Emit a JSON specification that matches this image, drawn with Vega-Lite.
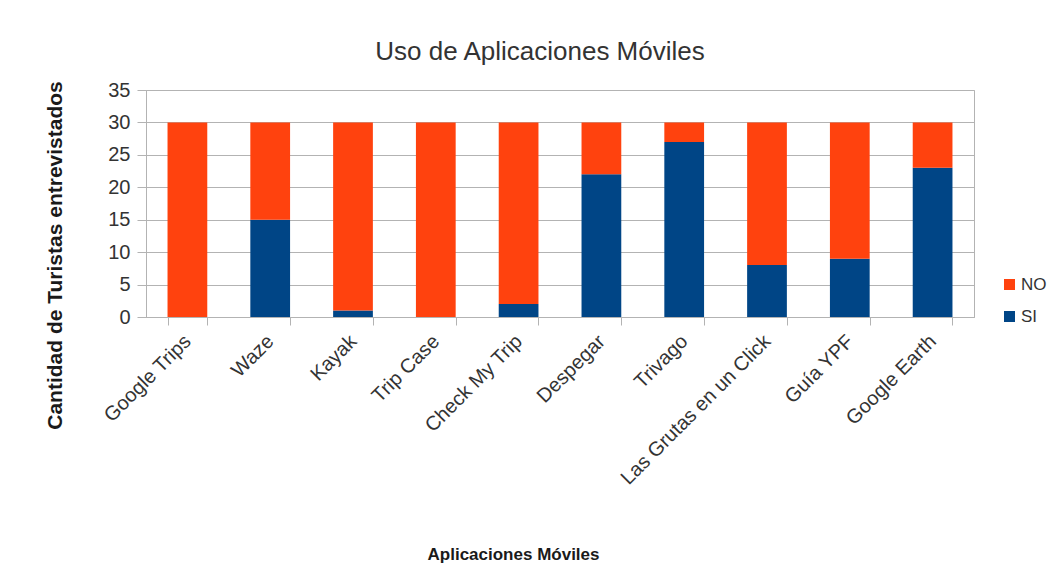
{
  "$schema": "https://vega.github.io/schema/vega-lite/v6.json",
  "autosize": "none",
  "width": 828,
  "height": 227,
  "padding": {"left": 146, "top": 90, "right": 86, "bottom": 267},
  "background": "white",
  "title": {
    "text": "Uso de Aplicaciones Móviles",
    "font": "Liberation Sans",
    "fontSize": 26,
    "fontWeight": "normal",
    "color": "#333333",
    "anchor": "middle",
    "dx": -20,
    "dy": 38,
    "baseline": "alphabetic",
    "offset": 32
  },
  "data": {
    "values": [
      {"app": "Google Trips", "respuesta": "SI", "cantidad": 0},
      {"app": "Google Trips", "respuesta": "NO", "cantidad": 30},
      {"app": "Waze", "respuesta": "SI", "cantidad": 15},
      {"app": "Waze", "respuesta": "NO", "cantidad": 15},
      {"app": "Kayak", "respuesta": "SI", "cantidad": 1},
      {"app": "Kayak", "respuesta": "NO", "cantidad": 29},
      {"app": "Trip Case", "respuesta": "SI", "cantidad": 0},
      {"app": "Trip Case", "respuesta": "NO", "cantidad": 30},
      {"app": "Check My Trip", "respuesta": "SI", "cantidad": 2},
      {"app": "Check My Trip", "respuesta": "NO", "cantidad": 28},
      {"app": "Despegar", "respuesta": "SI", "cantidad": 22},
      {"app": "Despegar", "respuesta": "NO", "cantidad": 8},
      {"app": "Trivago", "respuesta": "SI", "cantidad": 27},
      {"app": "Trivago", "respuesta": "NO", "cantidad": 3},
      {"app": "Las Grutas en un Click", "respuesta": "SI", "cantidad": 8},
      {"app": "Las Grutas en un Click", "respuesta": "NO", "cantidad": 22},
      {"app": "Guía YPF", "respuesta": "SI", "cantidad": 9},
      {"app": "Guía YPF", "respuesta": "NO", "cantidad": 21},
      {"app": "Google Earth", "respuesta": "SI", "cantidad": 23},
      {"app": "Google Earth", "respuesta": "NO", "cantidad": 7}
    ]
  },
  "mark": {"type": "bar"},
  "encoding": {
    "x": {
      "field": "app",
      "type": "nominal",
      "sort": null,
      "scale": {"paddingInner": 0.52, "paddingOuter": 0.26},
      "axis": {
        "title": "Aplicaciones Móviles",
        "titleFont": "Liberation Sans",
        "titleFontSize": 17,
        "titleFontWeight": "bold",
        "titleColor": "#1a1a1a",
        "titleX": 367,
        "titleY": 237,
        "titleAlign": "center",
        "titleBaseline": "middle",
        "labelAngle": -45,
        "labelAlign": "right",
        "labelBaseline": "middle",
        "labelFont": "Liberation Sans",
        "labelFontSize": 20,
        "labelColor": "#333333",
        "labelPadding": 13,
        "labelLimit": 0,
        "labelOverlap": false,
        "tickBand": "extent",
        "ticks": true,
        "tickSize": 8,
        "tickColor": "#b3b3b3",
        "domainColor": "#b3b3b3",
        "grid": false
      }
    },
    "y": {
      "field": "cantidad",
      "type": "quantitative",
      "stack": "zero",
      "scale": {"domain": [0, 35], "nice": false},
      "axis": {
        "title": "Cantidad de Turistas entrevistados",
        "titleFont": "Liberation Sans",
        "titleFontSize": 21,
        "titleFontWeight": "bold",
        "titleColor": "#1a1a1a",
        "titleAngle": 270,
        "titleX": -91,
        "titleY": 165,
        "titleAlign": "center",
        "titleBaseline": "middle",
        "values": [0, 5, 10, 15, 20, 25, 30, 35],
        "labelFont": "Liberation Sans",
        "labelFontSize": 20,
        "labelColor": "#333333",
        "labelPadding": 7,
        "tickSize": 9,
        "tickColor": "#b3b3b3",
        "domainColor": "#b3b3b3",
        "gridColor": "#b3b3b3"
      }
    },
    "color": {
      "field": "respuesta",
      "type": "nominal",
      "scale": {"domain": ["NO", "SI"], "range": ["#ff420e", "#004586"]},
      "legend": {
        "title": null,
        "orient": "none",
        "legendX": 855,
        "legendY": 186,
        "symbolType": "square",
        "symbolSize": 121,
        "symbolStrokeWidth": 0,
        "labelFont": "Liberation Sans",
        "labelFontSize": 17,
        "labelColor": "#333333",
        "labelOffset": 3,
        "rowPadding": 14
      }
    },
    "order": {"field": "respuesta", "sort": "descending"}
  },
  "config": {
    "view": {"stroke": "#b3b3b3"}
  }
}
